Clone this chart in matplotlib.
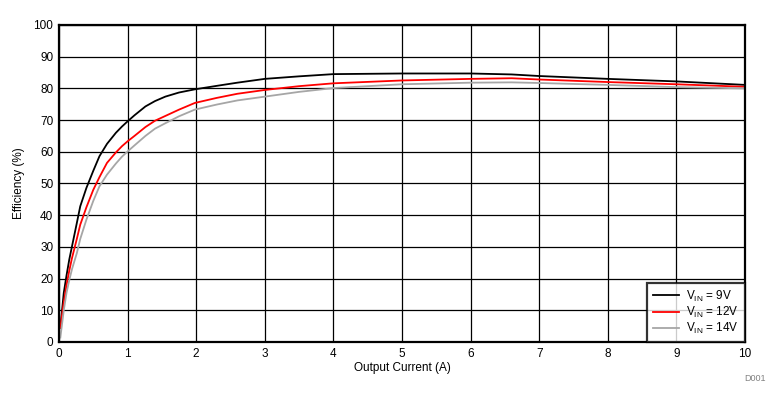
import matplotlib
matplotlib.use("Agg")
import matplotlib.pyplot as plt

plt.rcParams["font.family"] = ["Liberation Sans", "DejaVu Sans"]
plt.rcParams["mathtext.fontset"] = "custom"
plt.rcParams["mathtext.rm"] = "Liberation Sans"

# Output current (A) and efficiency (%)
current = [0.02, 0.07, 0.11, 0.15, 0.19, 0.26, 0.31, 0.40, 0.50, 0.59, 0.70, 0.83, 0.92,
           1.0, 1.1, 1.26, 1.4, 1.55, 1.75, 1.98, 2.3, 2.6, 3.0, 3.5, 4.0, 5.0, 6.0, 6.6,
           7.0, 8.0, 9.0, 10.0]
eff_9v = [4.5, 15.5, 21.0, 26.0, 30.2, 37.5, 42.8, 48.6, 54.0, 58.6, 62.5, 66.0, 68.0,
          69.6, 71.5, 74.3, 76.0, 77.4, 78.7, 79.7, 80.8, 81.8, 83.0, 83.8, 84.5, 84.7,
          84.7, 84.4, 83.9, 83.0, 82.2, 81.1]
eff_12v = [4.5, 12.5, 18.0, 22.5, 26.5, 32.5, 37.0, 42.5, 48.0, 52.0, 56.5, 59.8, 61.8,
           63.3, 65.0, 67.8, 69.8, 71.3, 73.3, 75.4, 77.0, 78.3, 79.5, 80.7, 81.6, 82.5,
           83.0, 83.2, 82.8, 82.0, 81.3, 80.5]
eff_14v = [1.4, 10.0, 15.5, 19.5, 23.0, 28.0, 32.5, 38.6, 44.5, 49.1, 52.8, 56.3, 58.5,
           60.1, 62.0, 65.0, 67.3, 69.0, 71.2, 73.3, 74.9, 76.2, 77.4, 78.9, 80.1, 81.3,
           81.8, 81.9, 81.7, 81.1, 80.4, 80.0]

series = [
    (eff_9v, "black", r"V$_{\mathregular{IN}}$ = 9V"),
    (eff_12v, "#ff0000", r"V$_{\mathregular{IN}}$ = 12V"),
    (eff_14v, "#a6a6a6", r"V$_{\mathregular{IN}}$ = 14V"),
]

fig = plt.figure(figsize=(7.77, 4.03), dpi=100)
ax = fig.add_axes([0.0759, 0.1514, 0.8829, 0.7866])

for values, color, label in series:
    ax.plot(current, values, color=color, linewidth=1.3, label=label)

ax.set_xlim(0, 10)
ax.set_ylim(0, 100)
ax.set_xticks(range(0, 11))
ax.set_yticks(range(0, 101, 10))
ax.grid(True, color="black", linewidth=0.9)
ax.tick_params(length=0, labelsize=8.5, pad=4)
for spine in ax.spines.values():
    spine.set_linewidth(1.6)

ax.set_xlabel("Output Current (A)", fontsize=8.5, labelpad=2)
ax.set_ylabel("Efficiency (%)", fontsize=8.5, labelpad=6)

leg = ax.legend(loc="lower right", fontsize=8.5, frameon=True, fancybox=False,
                edgecolor="black", borderaxespad=0, handlelength=2.2,
                handletextpad=0.6, labelspacing=0.1, borderpad=0.5)
leg.get_frame().set_linewidth(1.6)

fig.text(0.985, 0.055, "D001", fontsize=6.5, color="#808080", ha="right")

fig.savefig("out.png", dpi=100)
